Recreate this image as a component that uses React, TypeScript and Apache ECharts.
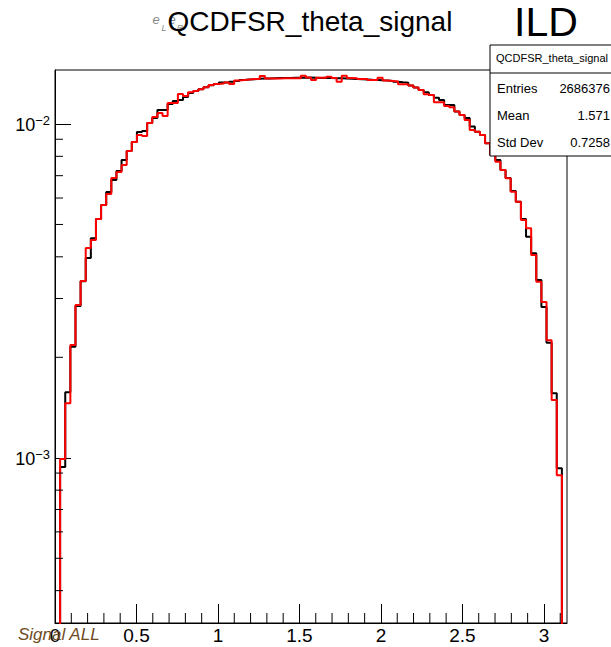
import React, { useEffect, useRef } from "react";
import * as echarts from "echarts";

const X_MIN = 0;
const X_MAX = Math.PI;
const Y_MIN = 3.2e-4;
const Y_MAX = 0.01451;

const blackValues = [
  0.0002, 0.000938, 0.001573, 0.00215, 0.00285, 0.00338, 0.00397, 0.00455, 0.00519, 0.00572,
  0.00625, 0.0068, 0.00723, 0.0078, 0.0083, 0.00883, 0.00946, 0.00953, 0.01007, 0.01042,
  0.01101, 0.01101, 0.01148, 0.01172, 0.0118, 0.01205, 0.01239, 0.01256, 0.01271, 0.01288,
  0.01306, 0.01318, 0.0133, 0.0133, 0.01339, 0.01346, 0.01355, 0.0136, 0.01362, 0.01366,
  0.01369, 0.01369, 0.01371, 0.01373, 0.01373, 0.01373, 0.01376, 0.01376, 0.01376, 0.01378,
  0.01376, 0.01373, 0.01376, 0.01373, 0.01371, 0.01371, 0.01369, 0.01366, 0.01364, 0.01362,
  0.0136, 0.01357, 0.01355, 0.01352, 0.0135, 0.01346, 0.01339, 0.01334, 0.0133, 0.01303,
  0.01285, 0.01265, 0.01245, 0.01222, 0.01199, 0.0118, 0.0114, 0.0114, 0.01089, 0.01064,
  0.01042, 0.00982, 0.00948, 0.00927, 0.00875, 0.00807, 0.0078, 0.00728, 0.00689, 0.0063,
  0.00585, 0.00519, 0.00459, 0.0041, 0.00341, 0.00283, 0.00221, 0.00156, 0.000931, 0.0002,
];

const redValues = [
  0.0002, 0.000991, 0.001458, 0.002176, 0.002868, 0.003384, 0.00425, 0.00449, 0.00519, 0.00572,
  0.00617, 0.00689, 0.00718, 0.00754, 0.0083, 0.00883, 0.00927, 0.0092, 0.01007, 0.0105,
  0.01079, 0.01057, 0.01156, 0.01156, 0.0123, 0.01213, 0.01245, 0.01256, 0.01271, 0.01288,
  0.01309, 0.01318, 0.01323, 0.0133, 0.01318, 0.0135, 0.01355, 0.0136, 0.01364, 0.01364,
  0.01392, 0.01369, 0.01369, 0.01369, 0.01371, 0.01371, 0.01371, 0.01371, 0.01395, 0.01378,
  0.01355, 0.01376, 0.01376, 0.01386, 0.01373, 0.01339, 0.01395, 0.01373, 0.01371, 0.01364,
  0.01364, 0.01355, 0.01355, 0.01376, 0.0135, 0.01346, 0.01341, 0.01315, 0.01315, 0.01303,
  0.01285, 0.01265, 0.01228, 0.01222, 0.01161, 0.01161, 0.01132, 0.01122, 0.01089, 0.01064,
  0.01028, 0.00959, 0.00948, 0.00927, 0.00875, 0.00811, 0.00771, 0.00728, 0.00688, 0.00627,
  0.00585, 0.00516, 0.00487, 0.00405, 0.00337, 0.00293, 0.00225, 0.00149, 0.000887, 0.0002,
];

const yMinorTicks = [
  4e-4, 5e-4, 6e-4, 7e-4, 8e-4, 9e-4,
  2e-3, 3e-3, 4e-3, 5e-3, 6e-3, 7e-3, 8e-3, 9e-3,
];

const xMinorTicks = [
  0.1, 0.2, 0.3, 0.4, 0.6, 0.7, 0.8, 0.9, 1.1, 1.2, 1.3, 1.4, 1.6, 1.7, 1.8, 1.9,
  2.1, 2.2, 2.3, 2.4, 2.6, 2.7, 2.8, 2.9, 3.1,
];

const titleText = "QCDFSR_theta_signal";
const statsTitle = "QCDFSR_theta_signal";
const statsLabels = ["Entries", "Mean", "Std Dev"];
const statsValues = ["2686376", "1.571", "0.7258"];
const cornerLabel = "Signal ALL";
const expLabel = "ILD";

const FONT = "'Liberation Sans', Arial, Helvetica, sans-serif";

function histData(vals: number[]) {
  const w = (X_MAX - X_MIN) / vals.length;
  const pts = vals.map((v, i) => [X_MIN + i * w, v]);
  pts.push([X_MAX, vals[vals.length - 1]]);
  return pts;
}

export default function App() {
  const ref = useRef<HTMLDivElement>(null);

  useEffect(() => {
    document.body.style.margin = "0";
    if (!ref.current) return;
    const chart = echarts.init(ref.current, null, { renderer: "svg" });

    const statsRowY = [88, 115, 142];
    const graphic: any[] = [
      {
        type: "text",
        x: 310,
        y: 21,
        z: 50,
        style: {
          text: titleText,
          font: `28px ${FONT}`,
          fill: "#000",
          align: "center",
          verticalAlign: "middle",
        },
      },
      {
        type: "text",
        x: 156,
        y: 19,
        z: 40,
        style: { text: "e", font: `italic 13px ${FONT}`, fill: "#888", align: "center", verticalAlign: "middle" },
      },
      {
        type: "text",
        x: 172,
        y: 19,
        z: 40,
        style: { text: "e", font: `italic 13px ${FONT}`, fill: "#888", align: "center", verticalAlign: "middle" },
      },
      {
        type: "text",
        x: 164,
        y: 28,
        z: 40,
        style: { text: "L", font: `italic 9px ${FONT}`, fill: "#888", align: "center", verticalAlign: "middle" },
      },
      {
        type: "text",
        x: 180,
        y: 28,
        z: 40,
        style: { text: "R", font: `italic 9px ${FONT}`, fill: "#888", align: "center", verticalAlign: "middle" },
      },
      {
        type: "text",
        x: 514,
        y: 22,
        z: 50,
        style: { text: expLabel, font: `41px ${FONT}`, fill: "#000", align: "left", verticalAlign: "middle" },
      },
      {
        type: "rect",
        z: 100,
        shape: { x: 490, y: 45, width: 130, height: 111 },
        style: { fill: "#fff", stroke: "#000", lineWidth: 1 },
      },
      {
        type: "line",
        z: 101,
        shape: { x1: 490, y1: 73, x2: 620, y2: 73 },
        style: { stroke: "#000", lineWidth: 1 },
      },
      {
        type: "text",
        x: 552,
        y: 58,
        z: 102,
        style: { text: statsTitle, font: `11px ${FONT}`, fill: "#000", align: "center", verticalAlign: "middle" },
      },
      {
        type: "text",
        x: 18,
        y: 634,
        z: 102,
        style: { text: cornerLabel, font: `italic 17px ${FONT}`, fill: "#6e4a22", align: "left", verticalAlign: "middle" },
      },
    ];
    statsLabels.forEach((lab, i) => {
      graphic.push({
        type: "text",
        x: 497,
        y: statsRowY[i],
        z: 102,
        style: { text: lab, font: `13px ${FONT}`, fill: "#000", align: "left", verticalAlign: "middle" },
      });
      graphic.push({
        type: "text",
        x: 610,
        y: statsRowY[i],
        z: 102,
        style: { text: statsValues[i], font: `13px ${FONT}`, fill: "#000", align: "right", verticalAlign: "middle" },
      });
    });

    const option: any = {
      animation: false,
      backgroundColor: "#fff",
      textStyle: { fontFamily: FONT },
      grid: {
        left: 55,
        right: 44,
        top: 70,
        bottom: 24,
        show: true,
        borderColor: "#000",
        borderWidth: 1,
        containLabel: false,
        outerBoundsMode: "none",
      },
      xAxis: {
        type: "value",
        min: X_MIN,
        max: X_MAX,
        interval: 0.5,
        axisLine: { show: true, lineStyle: { color: "#000", width: 1 } },
        axisTick: { show: true, inside: true, length: 19, lineStyle: { color: "#000", width: 1 } },
        minorTick: { show: false },
        splitLine: { show: false },
        axisLabel: {
          show: true,
          color: "#000",
          fontSize: 19,
          fontFamily: FONT,
          margin: 3,
          showMaxLabel: false,
          formatter: (v: number) => (Math.abs(v - X_MAX) < 1e-6 ? "" : String(v)),
        },
      },
      yAxis: {
        type: "log",
        logBase: 10,
        min: Y_MIN,
        max: Y_MAX,
        axisLine: { show: true, lineStyle: { color: "#000", width: 1 } },
        axisTick: { show: true, inside: true, length: 16, lineStyle: { color: "#000", width: 1 } },
        splitLine: { show: false },
        minorTick: { show: false },
        axisLabel: {
          show: true,
          margin: 5,
          showMinLabel: false,
          showMaxLabel: false,
          formatter: (v: number) => {
            const e = Math.log10(v);
            const r = Math.round(e);
            if (Math.abs(e - r) > 1e-6) return "";
            const s = r < 0 ? "\u2212" + Math.abs(r) : String(r);
            return `{b|10}{s|${s}}`;
          },
          rich: {
            b: { fontSize: 18, fontFamily: FONT, color: "#000", lineHeight: 20, verticalAlign: "bottom" },
            s: { fontSize: 13, fontFamily: FONT, color: "#000", lineHeight: 13, verticalAlign: "top" },
          },
        },
      },
      series: [
        {
          type: "line",
          name: "black",
          data: histData(blackValues),
          step: "end",
          symbol: "none",
          clip: true,
          lineStyle: { color: "#000", width: 2 },
          z: 2,
        },
        {
          type: "line",
          name: "red",
          data: histData(redValues),
          step: "end",
          symbol: "none",
          clip: true,
          lineStyle: { color: "#ff0000", width: 2 },
          z: 3,
        },
        {
          type: "custom",
          coordinateSystem: "cartesian2d",
          silent: true,
          clip: false,
          z: 4,
          data: yMinorTicks.map((v) => [X_MIN, v]),
          renderItem: (params: any, api: any) => {
            const p = api.coord([api.value(0), api.value(1)]);
            return {
              type: "line",
              shape: { x1: p[0], y1: p[1], x2: p[0] + 8, y2: p[1] },
              style: { stroke: "#000", lineWidth: 1 },
            };
          },
        },
        {
          type: "custom",
          coordinateSystem: "cartesian2d",
          silent: true,
          clip: false,
          z: 4,
          data: xMinorTicks.map((v) => [v, Y_MIN]),
          renderItem: (params: any, api: any) => {
            const p = api.coord([api.value(0), api.value(1)]);
            return {
              type: "line",
              shape: { x1: p[0], y1: p[1], x2: p[0], y2: p[1] - 10 },
              style: { stroke: "#000", lineWidth: 1 },
            };
          },
        },
      ],
      graphic,
    };

    chart.setOption(option);
    return () => {
      chart.dispose();
    };
  }, []);

  return (
    <div
      ref={ref}
      style={{ position: "absolute", left: 0, top: 0, width: 611, height: 647 }}
    />
  );
}
